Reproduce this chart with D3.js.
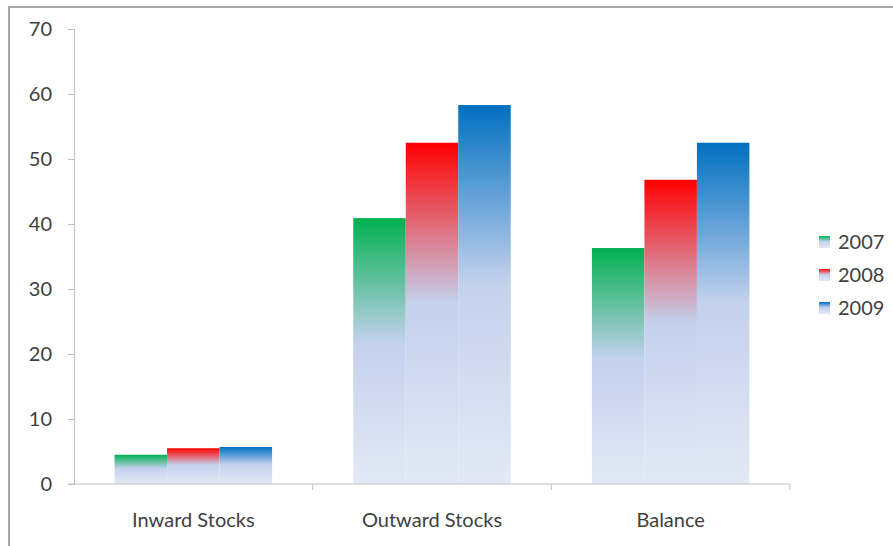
<!DOCTYPE html>
<html>
<head>
<meta charset="utf-8">
<script src="https://cdn.jsdelivr.net/npm/d3@7"></script>
<style>
  body { margin: 0; background: #fff; }
  text { font-family: Lato, "Open Sans", sans-serif; fill: #404040; }
</style>
</head>
<body>
<div id="chart"></div>
<script>
var categories = ["Inward Stocks", "Outward Stocks", "Balance"];
var years = ["2007", "2008", "2009"];
var v2007 = [4.5, 40.9, 36.3];
var v2008 = [5.5, 52.5, 46.8];
var v2009 = [5.7, 58.3, 52.5];
var yTicks = [0, 10, 20, 30, 40, 50, 60, 70];
var colours = ["#00b050", "#ff0000", "#0070c0"];

var W = 893, H = 546;
var plotLeft = 74, plotRight = 790, plotTop = 29, plotBottom = 484;

var svg = d3.select("#chart").append("svg")
	.attr("width", W)
	.attr("height", H);

var defs = svg.append("defs");
years.forEach(function (yr, i) {
	var g = defs.append("linearGradient")
		.attr("id", "grad" + i)
		.attr("x1", 0).attr("y1", 0).attr("x2", 0).attr("y2", 1);
	g.append("stop").attr("offset", "0").attr("stop-color", colours[i]);
	g.append("stop").attr("offset", "0.47").attr("stop-color", "#c4d1ed");
	g.append("stop").attr("offset", "1").attr("stop-color", "#e3e9f5");
});

// frame
svg.append("rect")
	.attr("x", 9).attr("y", 7)
	.attr("width", W + 20).attr("height", H + 20)
	.attr("fill", "none")
	.attr("stroke", "#a6a6a6")
	.attr("stroke-width", 2);

var x0 = d3.scaleBand().domain(categories).range([plotLeft, plotRight]).padding(0);
var x1 = d3.scaleBand().domain(years)
	.range([x0.bandwidth() * 0.17, x0.bandwidth() * 0.83]).padding(0);
var y = d3.scaleLinear().domain([0, 70]).range([plotBottom, plotTop]);

var series = [v2007, v2008, v2009];

// bars
var groups = svg.selectAll("g.cat")
	.data(categories)
	.enter().append("g")
	.attr("class", "cat")
	.attr("transform", function (d) { return "translate(" + x0(d) + ",0)"; });

groups.selectAll("rect")
	.data(function (d, ci) {
		return years.map(function (yr, si) { return { yr: yr, si: si, v: series[si][ci] }; });
	})
	.enter().append("rect")
	.attr("x", function (d) { return x1(d.yr); })
	.attr("width", x1.bandwidth())
	.attr("y", function (d) { return y(d.v); })
	.attr("height", function (d) { return plotBottom - y(d.v); })
	.attr("fill", function (d) { return "url(#grad" + d.si + ")"; });

// y axis
var yAxis = svg.append("g")
	.attr("transform", "translate(" + plotLeft + ",0)")
	.call(d3.axisLeft(y).tickValues(yTicks).tickSize(6).tickPadding(16));
yAxis.selectAll("path, line").attr("stroke", "#bfbfbf");
yAxis.selectAll("text")
	.style("font-size", "20px")
	.style("font-family", "Lato, 'Open Sans', sans-serif")
	.attr("fill", "#404040");

// x axis
var xAxis = svg.append("g")
	.attr("transform", "translate(0," + plotBottom + ")");
xAxis.append("line")
	.attr("x1", plotLeft - 6).attr("x2", plotRight)
	.attr("stroke", "#bfbfbf");
xAxis.selectAll("line.tk")
	.data(categories)
	.enter().append("line")
	.attr("class", "tk")
	.attr("x1", function (d) { return x0(d) + x0.bandwidth(); })
	.attr("x2", function (d) { return x0(d) + x0.bandwidth(); })
	.attr("y1", 0).attr("y2", 6)
	.attr("stroke", "#bfbfbf");
xAxis.selectAll("text")
	.data(categories)
	.enter().append("text")
	.attr("x", function (d) { return x0(d) + x0.bandwidth() / 2; })
	.attr("y", 43)
	.attr("text-anchor", "middle")
	.style("font-size", "20px")
	.text(function (d) { return d; });

// legend
var legend = svg.selectAll("g.leg")
	.data(years)
	.enter().append("g")
	.attr("class", "leg")
	.attr("transform", function (d, i) { return "translate(819," + (242 + i * 33) + ")"; });
legend.append("rect")
	.attr("x", 0).attr("y", -6)
	.attr("width", 11).attr("height", 12)
	.attr("fill", function (d, i) { return "url(#grad" + i + ")"; });
legend.append("text")
	.attr("x", 19).attr("y", 0)
	.attr("dy", "0.35em")
	.style("font-size", "20px")
	.text(function (d) { return d; });
</script>
</body>
</html>
